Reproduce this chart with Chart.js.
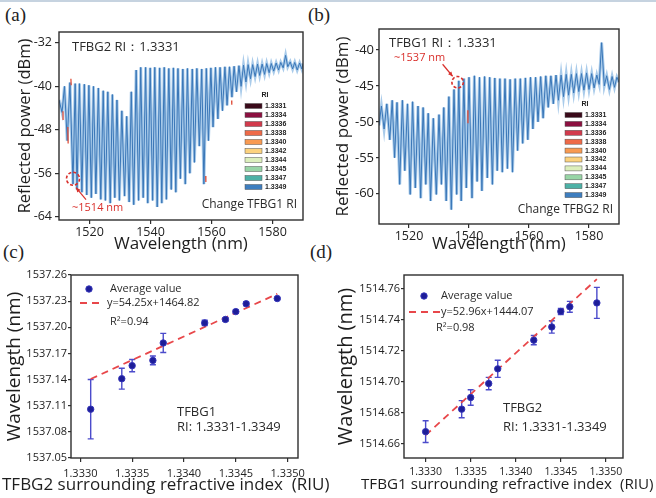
<!DOCTYPE html>
<html><head><meta charset="utf-8">
<script src="https://cdn.jsdelivr.net/npm/chart.js@4.4.1/dist/chart.umd.min.js"></script>
<style>
html,body{margin:0;padding:0;background:#fff;}
body{width:656px;height:498px;position:relative;overflow:hidden;}
canvas{position:absolute;}
.lab{position:absolute;font-family:'Liberation Serif',serif;font-size:19px;color:#222;line-height:20px;}
#topline{position:absolute;left:0;top:0;width:656px;height:2px;background:#c6d3e0;}
</style></head><body>
<div id="topline"></div>
<div class="lab" style="left:5px;top:5px;">(a)</div>
<div class="lab" style="left:308px;top:5px;">(b)</div>
<div class="lab" style="left:3px;top:242px;">(c)</div>
<div class="lab" style="left:310px;top:242px;">(d)</div>
<canvas id="cA" width="330" height="256" style="left:0;top:0;"></canvas>
<canvas id="cB" width="326" height="256" style="left:330px;top:0;"></canvas>
<canvas id="cC" width="336" height="248" style="left:0;top:250px;"></canvas>
<canvas id="cD" width="326" height="248" style="left:330px;top:250px;"></canvas>
<script>
// ---------- DATA ----------
// (a) spectrum (RI 1.3349 trace, drawn on top of the others), alternating peaks / dips
const wlA = [1510.0,1511.0,1511.8,1512.7,1513.6,1514.6,1515.3,1515.9,1516.7,1517.5,1518.3,1519.1,1519.8,1520.6,1521.3,1522.1,1522.9,1523.7,1524.5,1525.2,1526.0,1526.8,1527.5,1528.3,1529.0,1529.8,1530.6,1531.5,1532.2,1533.0,1533.7,1534.5,1535.3,1536.1,1536.8,1537.6,1538.4,1539.1,1539.9,1540.7,1541.4,1542.2,1543.0,1543.7,1544.5,1545.2,1546.0,1546.8,1547.5,1548.3,1549.0,1549.8,1550.6,1551.4,1552.1,1552.9,1553.7,1554.4,1555.2,1556.0,1556.8,1557.5,1558.3,1559.0,1559.8,1560.5,1561.3,1562.1,1562.8,1563.6,1564.4,1565.1,1565.9,1566.7,1567.4,1568.2,1569.0,1569.7,1570.5,1571.3,1572.0,1572.8,1573.5,1574.3,1575.1,1575.8,1576.6,1577.4,1578.1,1578.9,1579.6,1580.4,1581.2,1582.0,1582.7,1583.5,1584.3,1585.0,1585.8,1586.6,1587.3,1588.1,1588.9,1589.6,1590.0];
const dbA = [-42.5,-44.8,-40.0,-50.0,-39.3,-58.0,-39.5,-59.0,-39.5,-59.5,-39.6,-60.0,-39.8,-60.5,-40.0,-59.8,-40.3,-60.8,-40.8,-61.0,-41.0,-61.5,-41.5,-60.5,-42.5,-61.0,-44.5,-60.2,-45.5,-61.3,-41.0,-61.8,-37.0,-61.0,-36.5,-60.5,-36.5,-61.5,-36.6,-61.0,-36.5,-62.2,-36.6,-61.5,-36.5,-60.8,-36.7,-59.0,-36.6,-59.5,-36.7,-57.0,-36.8,-58.0,-36.7,-56.0,-36.8,-54.0,-36.7,-51.0,-36.8,-58.0,-36.7,-50.0,-36.6,-47.5,-36.5,-46.0,-36.5,-44.5,-36.4,-43.5,-36.4,-42.0,-36.3,-41.0,-36.2,-40.0,-36.1,-39.2,-36.0,-38.6,-36.0,-38.2,-35.9,-38.0,-35.9,-37.8,-35.8,-37.5,-35.8,-37.2,-35.7,-37.0,-35.6,-36.6,-34.3,-36.4,-35.5,-36.8,-35.6,-37.0,-35.7,-36.8,-35.8];
// visible fragments of the lower-RI traces in (a) (red/orange bits), null = gap
const fragAx = [1511.3,1511.35,1511.4,1512.9,1513.0,1513.05,1513.9,1514.0,1514.05,1558.1,1558.15,1558.2,1566.6,1566.65];
const fragAy = [-44.6,-46.2,null,-47.5,-50.5,null,-38.6,-39.8,null,-56.5,-57.6,null,-42.6,-43.4];
// (b) spectrum
const wlB = [1510.0,1510.8,1511.7,1512.6,1513.6,1514.4,1515.2,1516.0,1516.9,1517.8,1518.6,1519.5,1520.4,1521.2,1522.1,1523.0,1523.9,1524.7,1525.6,1526.4,1527.2,1528.1,1529.1,1530.0,1530.8,1531.6,1532.4,1533.3,1534.1,1535.0,1535.9,1536.6,1537.4,1538.3,1539.1,1540.0,1541.0,1541.8,1542.7,1543.5,1544.3,1545.2,1546.1,1546.9,1547.8,1548.6,1549.4,1550.3,1551.1,1552.0,1552.8,1553.7,1554.5,1555.4,1556.2,1557.1,1557.9,1558.8,1559.6,1560.5,1561.3,1562.2,1563.0,1563.9,1564.7,1565.6,1566.4,1567.3,1568.1,1569.0,1569.8,1570.7,1571.5,1572.4,1573.2,1574.1,1574.9,1575.8,1576.6,1577.5,1578.3,1579.2,1580.0,1580.9,1581.7,1582.6,1583.4,1584.2,1585.1,1585.9,1586.8,1587.7,1588.5,1589.3,1590.0];
const dbB = [-50.5,-47.8,-51.0,-47.5,-52.5,-47.0,-55.0,-47.3,-58.7,-47.0,-56.8,-47.5,-60.1,-47.2,-59.2,-47.8,-60.6,-48.0,-58.7,-48.8,-61.0,-49.5,-60.1,-49.0,-58.7,-48.0,-61.0,-46.5,-62.2,-45.5,-60.1,-44.3,-61.0,-44.0,-59.2,-43.8,-60.6,-43.6,-58.3,-43.8,-59.6,-43.7,-57.8,-43.8,-58.7,-43.9,-56.8,-44.0,-57.0,-44.0,-56.5,-44.1,-57.0,-44.0,-54.0,-44.0,-53.0,-43.9,-52.5,-43.8,-51.0,-43.8,-50.0,-43.7,-49.5,-43.6,-48.0,-43.6,-47.5,-43.5,-47.0,-43.5,-46.5,-43.4,-46.3,-43.4,-46.0,-43.3,-45.8,-43.3,-45.6,-43.2,-45.5,-43.3,-45.3,-43.5,-44.8,-39.0,-45.0,-43.6,-45.5,-43.7,-45.2,-43.8,-44.5];
const fragBx = [1539.6,1539.65];
const fragBy = [-48.4,-50.2];
const riLabels = ['1.3331','1.3334','1.3336','1.3338','1.3340','1.3342','1.3344','1.3345','1.3347','1.3349'];
const riColors = ['#3a0a1a','#8c1040','#d23a4c','#ee6a48','#f89a52','#fcd27e','#dcefbc','#98d5a6','#4db1a6','#3e7ebf'];
const ticksAx = [1520,1540,1560,1580];
const ticksAy = [-64,-56,-48,-40,-32];
const ticksBy = [-60,-55,-50,-45,-40];
// (c)
const riC = [1.3331,1.3334,1.3335,1.3337,1.3338,1.3342,1.3344,1.3345,1.3346,1.3349];
const wlC = [1537.106,1537.141,1537.156,1537.162,1537.182,1537.205,1537.209,1537.218,1537.227,1537.233];
const errC = [0.034,0.012,0.007,0.005,0.011,0.003,0.002,0.002,0.002,0.001];
const fitCx = [1.3331,1.3349];
const fitCy = [1537.1407,1537.2383];
const ticksCx = [1.3330,1.3335,1.3340,1.3345,1.3350];
const ticksCy = [1537.05,1537.08,1537.11,1537.14,1537.17,1537.20,1537.23,1537.26];
// (d)
const riD = [1.3330,1.3334,1.3335,1.3337,1.3338,1.3342,1.3344,1.3345,1.3346,1.3349];
const wlD = [1514.668,1514.6825,1514.690,1514.699,1514.7085,1514.727,1514.7355,1514.7455,1514.7485,1514.751];
const errD = [0.007,0.0055,0.005,0.004,0.0055,0.003,0.004,0.002,0.0035,0.010];
const fitDx = [1.3330,1.3349];
const fitDy = [1514.6657,1514.7663];
const ticksDx = [1.3330,1.3335,1.3340,1.3345,1.3350];
const ticksDy = [1514.66,1514.68,1514.70,1514.72,1514.74,1514.76];

// ---------- HELPERS ----------
const FONT = "'Open Sans', sans-serif";
const INK = '#2b2b2b';
function pts(xs, ys){ return xs.map((x,i)=>({x:x, y:ys[i]})); }
function txt(c, s, x, y, size, color, align, weight, fam){
  c.save(); c.font=(weight||'normal')+' '+size+'px '+(fam||FONT); c.fillStyle=color||INK;
  c.textAlign=align||'left'; c.textBaseline='middle'; c.fillText(s,x,y); c.restore();
}
// text spanning from x1 to x2 (font size chosen so that it fills that span)
function spanText(c, s, x1, x2, y, color){
  c.save(); c.font='100px '+FONT; const w=c.measureText(s).width; c.restore();
  const size=Math.round(100*(x2-x1)/w*10)/10;
  txt(c, s, x1, y, size, color, 'left');
}
const framePlugin = {id:'frame', afterDatasetsDraw(ch){
  const a=ch.chartArea, c=ch.ctx; c.save(); c.strokeStyle='#2e2e2e'; c.lineWidth=1.4;
  c.strokeRect(a.left, a.top, a.right-a.left, a.bottom-a.top); c.restore(); }};
function setTicks(arr){ return s=>{ s.ticks = arr.map(v=>({value:v})); }; }
function axis(o){
  return {
    type:'linear', min:o.min, max:o.max,
    afterBuildTicks: setTicks(o.ticks),
    afterFit: s=>{ if(o.w!==undefined) s.width=o.w; if(o.h!==undefined) s.height=o.h; },
    grid:{display:true, drawOnChartArea:false, drawTicks:true, tickLength:o.tl||4, color:'#2e2e2e', lineWidth:1.2},
    border:{display:false},
    ticks:{font:{family:FONT,size:o.fs}, color:'#222', padding:o.pad, maxRotation:0, autoSkip:false,
      callback: o.fmt},
    title: o.title ? {display:true, text:o.title, font:{family:FONT,size:o.tfs}, color:'#1e1e1e', padding:o.tpad} : {display:false}
  };
}
function legendRI(c, x0, y0, rowH){
  txt(c,'RI', x0+20, y0, 7, '#222','center','bold',"'Liberation Sans', sans-serif");
  riLabels.forEach((l,i)=>{
    const y = y0 + 11 + i*rowH;
    c.save(); c.fillStyle=riColors[i]; c.fillRect(x0, y-2.5, 17, 5);
    c.strokeStyle='#555'; c.lineWidth=0.5; c.strokeRect(x0, y-2.5, 17, 5); c.restore();
    txt(c, l, x0+20, y, 7, '#222','left','bold',"'Liberation Sans', sans-serif");
  });
}
function redMark(c, cx, cy, r, tx, ty, hx, hy){
  c.save(); c.strokeStyle='#d9302c'; c.lineWidth=1.6; c.setLineDash([3,2]);
  c.beginPath(); c.arc(cx,cy,r,0,Math.PI*2); c.stroke();
  c.setLineDash([]); c.lineWidth=1.2;
  c.beginPath(); c.moveTo(tx,ty); c.lineTo(hx,hy); c.stroke();
  const ang=Math.atan2(hy-ty,hx-tx);
  c.fillStyle='#d9302c'; c.beginPath(); c.moveTo(hx,hy);
  c.lineTo(hx-5*Math.cos(ang-0.45), hy-5*Math.sin(ang-0.45));
  c.lineTo(hx-5*Math.cos(ang+0.45), hy-5*Math.sin(ang+0.45)); c.closePath(); c.fill();
  c.restore();
}
const base = {animation:false, responsive:false, devicePixelRatio:1, events:[],
  plugins:{legend:{display:false}, tooltip:{enabled:false}}};
function specDatasets(xs, ys, fx, fy){
  return [
    {data:pts(fx,fy), borderColor:'#e0503c', borderWidth:1.3, pointRadius:0, tension:0, fill:false, spanGaps:false, order:0},
    {data:pts(xs,ys), borderColor:'#3a77b8', borderWidth:1.0, pointRadius:0, tension:0, fill:false, order:1},
    {data:pts(xs,ys), borderColor:'#a9cbea', borderWidth:3.0, pointRadius:0, tension:0, fill:false, order:2}
  ];
}

// ---------- (a) ----------
new Chart(document.getElementById('cA'), {
  type:'line',
  data:{datasets:specDatasets(wlA, dbA, fragAx, fragAy)},
  options:Object.assign({}, base, {
    layout:{padding:{left:0, top:32, right:27, bottom:0}},
    scales:{
      x: axis({min:1510, max:1590, ticks:ticksAx, h:36, fs:12.5, pad:1, title:'Wavelength (nm)', tfs:17, tpad:{top:0,bottom:2}}),
      y: axis({min:-64.6, max:-30, ticks:ticksAy, w:59, fs:12.5, pad:3, title:'Reflected power (dBm)', tfs:16.5, tpad:{top:15,bottom:0}})
    }
  }),
  plugins:[framePlugin, {id:'annA', afterDraw(ch){
    const c=ch.ctx, X=ch.scales.x, Y=ch.scales.y;
    txt(c,'TFBG2 RI：1.3331', 72, 47, 13, INK);
    txt(c,'Change TFBG1 RI', 297, 205, 12, INK, 'right');
    legendRI(c, 245, 95, 9);
    const cx=X.getPixelForValue(1514.6), cy=Y.getPixelForValue(-57.0);
    redMark(c, cx, cy, 6.5, cx+13, cy+21, cx+3, cy+9);
    txt(c,'~1514 nm', 72, 208, 11, '#d9302c');
  }}]
});

// ---------- (b) ----------
new Chart(document.getElementById('cB'), {
  type:'line',
  data:{datasets:specDatasets(wlB, dbB, fragBx, fragBy)},
  options:Object.assign({}, base, {
    layout:{padding:{left:0, top:29, right:37, bottom:0}},
    scales:{
      x: axis({min:1510, max:1590, ticks:ticksAx, h:32, fs:12.5, pad:1, title:'Wavelength (nm)', tfs:17, tpad:{top:0,bottom:2}}),
      y: axis({min:-64.2, max:-37.1, ticks:ticksBy, w:49, fs:13, pad:2, tl:3, title:'Reflected power (dBm)', tfs:17, tpad:{top:3,bottom:0}})
    }
  }),
  plugins:[framePlugin, {id:'annB', afterDraw(ch){
    const c=ch.ctx, X=ch.scales.x, Y=ch.scales.y;
    txt(c,'TFBG1 RI：1.3331', 59, 43, 13, INK);
    txt(c,'Change TFBG2 RI', 283, 210, 12, INK, 'right');
    legendRI(c, 235, 104, 8.9);
    const cx=X.getPixelForValue(1536.2), cy=Y.getPixelForValue(-44.5);
    redMark(c, cx, cy, 5.7, cx-15, cy-18, cx-5, cy-6);
    txt(c,'~1537 nm', 64, 58, 11, '#d9302c');
  }}]
});

// ---------- (c),(d) ----------
function errPlugin(xs, ys, es){ return {id:'err', beforeDatasetsDraw(ch){
  const X=ch.scales.x, Y=ch.scales.y, c=ch.ctx; c.save(); c.strokeStyle='#4b4bcb'; c.lineWidth=1.4;
  xs.forEach((x,i)=>{ const px=X.getPixelForValue(x), t=Y.getPixelForValue(ys[i]+es[i]), b=Y.getPixelForValue(ys[i]-es[i]);
    c.beginPath(); c.moveTo(px,t); c.lineTo(px,b); c.moveTo(px-3,t); c.lineTo(px+3,t); c.moveTo(px-3,b); c.lineTo(px+3,b); c.stroke(); });
  c.restore(); }}; }
function dot(c,x,y){ c.save(); c.fillStyle='#1d1d98'; c.strokeStyle='#3434b8'; c.lineWidth=1; c.beginPath(); c.arc(x,y,3.2,0,Math.PI*2); c.fill(); c.stroke(); c.restore(); }
function dash(c,x1,x2,y){ c.save(); c.strokeStyle='#e8474a'; c.lineWidth=1.8; c.setLineDash([7,5]); c.beginPath(); c.moveTo(x1,y); c.lineTo(x2,y); c.stroke(); c.restore(); }
function scatterDatasets(xs, ys, fx, fy){
  return [
    {type:'scatter', data:pts(xs,ys), pointRadius:3.2, pointBackgroundColor:'#1d1d98', pointBorderColor:'#3434b8', pointBorderWidth:1, order:0},
    {type:'line', data:pts(fx,fy), borderColor:'#e8474a', borderWidth:1.8, borderDash:[7,5], pointRadius:0, fill:false, order:1}
  ];
}
const f2 = v=>v.toFixed(2), f4 = v=>v.toFixed(4);

new Chart(document.getElementById('cC'), {
  type:'scatter',
  data:{datasets:scatterDatasets(riC, wlC, fitCx, fitCy)},
  options:Object.assign({}, base, {
    layout:{padding:{left:0, top:25, right:38, bottom:0}},
    scales:{
      x: axis({min:1.33291, max:1.3351, ticks:ticksCx, h:40, fs:11, pad:5, fmt:f4}),
      y: axis({min:1537.05, max:1537.26, ticks:ticksCy, w:71, fs:11, pad:1, tl:3, fmt:f2, title:'Wavelength (nm)', tfs:19, tpad:{top:3.6,bottom:0}})
    }
  }),
  plugins:[framePlugin, errPlugin(riC, wlC, errC), {id:'annC', afterDraw(ch){
    const c=ch.ctx;
    dot(c, 89, 39); txt(c,'Average value', 110, 39, 11, INK);
    dash(c, 80, 103, 53); txt(c,'y=54.25x+1464.82', 107, 53, 11, INK);
    txt(c,'R²=0.94', 110, 72, 11, INK);
    txt(c,'TFBG1', 177, 162, 13, INK);
    txt(c,'RI: 1.3331-1.3349', 177, 177, 13, INK);
    spanText(c,'TFBG2 surrounding refractive index  (RIU)', 2, 330, 235, '#1e1e1e');
  }}]
});

new Chart(document.getElementById('cD'), {
  type:'scatter',
  data:{datasets:scatterDatasets(riD, wlD, fitDx, fitDy)},
  options:Object.assign({}, base, {
    layout:{padding:{left:0, top:25, right:33, bottom:0}},
    scales:{
      x: axis({min:1.33276, max:1.33519, ticks:ticksDx, h:40, fs:10.5, pad:3.7, fmt:f4}),
      y: axis({min:1514.651, max:1514.769, ticks:ticksDy, w:74, fs:11, pad:1, tl:3, fmt:f2, title:'Wavelength (nm)', tfs:20, tpad:{top:4,bottom:0}})
    }
  }),
  plugins:[framePlugin, errPlugin(riD, wlD, errD), {id:'annD', afterDraw(ch){
    const c=ch.ctx;
    dot(c, 94, 46); txt(c,'Average value', 111, 46, 11, INK);
    dash(c, 79, 110, 62); txt(c,'y=52.96x+1444.07', 111, 62, 11, INK);
    txt(c,'R²=0.98', 106, 78, 11, INK);
    txt(c,'TFBG2', 173, 158, 13, INK);
    txt(c,'RI: 1.3331-1.3349', 173, 177, 13, INK);
    spanText(c,'TFBG1 surrounding refractive index  (RIU)', 31, 324, 235, '#1e1e1e');
  }}]
});
</script>
</body></html>
